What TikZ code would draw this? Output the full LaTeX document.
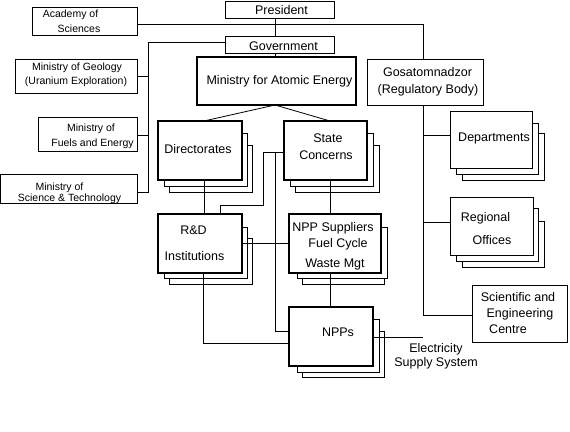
\documentclass[tikz,border=0pt]{standalone}
\usepackage{fontspec}
\setmainfont{Liberation Sans}
\newcommand\mkbox[6]{\node[#1, minimum width={(#5-#3)*1pt}, minimum height={(#6-#4)*1pt}] (#2) at ({(#3+#5)/2},{(#4+#6)/2}) {};}
\tikzset{
  plainbox/.style={draw=black, line width=0.8pt, fill=white, inner sep=0pt, outer sep=0pt},
  boldbox/.style={plainbox, line width=1.8pt},
  conn/.style={draw=black, line width=0.8pt},
  bigtxt/.style={font=\fontsize{12.5}{15}\selectfont, inner sep=0pt, anchor=base},
  smalltxt/.style={font=\fontsize{10.5}{13}\selectfont, inner sep=0pt, anchor=base}
}
\begin{document}
\begin{tikzpicture}[x=1pt,y=-1pt]
\useasboundingbox[fill=white] (0,0) rectangle (570,431);
% simple boxes
\mkbox{plainbox}{aca}{32}{7}{137}{35}
\mkbox{plainbox}{pres}{225}{1}{334}{18}
\mkbox{plainbox}{gov}{225}{36}{334}{53}
\mkbox{boldbox}{mae}{197}{57}{356}{105}
\mkbox{plainbox}{gos}{367}{59}{483}{105}
\mkbox{plainbox}{geo}{15}{59}{137}{93}
\mkbox{plainbox}{fue}{38}{117}{137}{151}
\mkbox{plainbox}{mst}{0.5}{174}{137}{203}
% stacked boxes
\mkbox{plainbox}{dirs3}{169}{145}{252}{192}
\mkbox{plainbox}{dirs2}{164}{133}{247}{186}
\mkbox{boldbox}{dir}{158}{121}{242}{180}
\mkbox{plainbox}{scs3}{295}{145}{379}{192}
\mkbox{plainbox}{scs2}{290}{133}{373}{186}
\mkbox{boldbox}{sc}{284}{121}{367}{180}
\mkbox{plainbox}{deps3}{462}{133}{544}{180}
\mkbox{plainbox}{deps2}{456}{123}{538}{174}
\mkbox{plainbox}{dep}{450}{111}{532}{168}
\mkbox{plainbox}{rds3}{169}{238}{252}{284}
\mkbox{plainbox}{rds2}{164}{227}{247}{278}
\mkbox{boldbox}{rd}{158}{214}{242}{273}
\mkbox{plainbox}{sups3}{302}{238}{384}{284}
\mkbox{plainbox}{sups2}{297}{227}{387}{278}
\mkbox{boldbox}{sup}{289}{214}{381}{273}
\mkbox{plainbox}{npps3}{302}{331}{384}{377}
\mkbox{plainbox}{npps2}{297}{319}{379}{372}
\mkbox{boldbox}{npp}{289}{307}{373}{366}
\mkbox{plainbox}{regs3}{462}{221}{544}{267}
\mkbox{plainbox}{regs2}{456}{208}{538}{261}
\mkbox{plainbox}{reg}{450}{197}{533}{255}
\mkbox{plainbox}{sci}{472}{285}{567}{342}
% connectors
\coordinate (elecend) at (423,337);
\draw[conn] (aca.east |- 0,24) -- (423,24) -- (gos.north -| 423,0);
\draw[conn] (pres.south -| 275,0) -- (gov.north -| 275,0);
\draw[conn] (gov.south -| 275,0) -- (mae.north -| 275,0);
\draw[conn] (gov.west |- 0,42) -- (148,42) -- (148,192) -- (mst.east |- 0,192);
\draw[conn] (148,76) -- (geo.east |- 0,76);
\draw[conn] (148,135) -- (fue.east |- 0,135);
\draw[conn] (mae.south -| 275,0) -- (dir.north -| 204,0);
\draw[conn] (mae.south -| 275,0) -- (sc.north -| 330,0);
\draw[conn] (dir.south -| 204,0) -- (rd.north -| 204,0);
\draw[conn] (sc.south -| 330,0) -- (sup.north -| 330,0);
\draw[conn] (sup.south -| 330,0) -- (npp.north -| 330,0);
\draw[conn] (sc.west |- 0,152) -- (263,152) -- (263,205) -- (220,205) -- (rd.north -| 220,0);
\draw[conn] (275,152) -- (275,331) -- (npp.west |- 0,331);
\draw[conn] (rd.east |- 0,243) -- (sup.west |- 0,243);
\draw[conn] (rd.south -| 203,0) -- (203,343) -- (npp.west |- 0,343);
\draw[conn] (npp.east |- 0,337) -- (elecend);
\draw[conn] (gos.south -| 423,0) -- (423,315) -- (sci.west |- 0,315);
\draw[conn] (423,135) -- (dep.west |- 0,135);
\draw[conn] (423,222) -- (reg.west |- 0,222);
% texts
\node[smalltxt] (ta1) at (70.5,17) {Academy of};
\node[smalltxt] (ta2) at (79,32) {Sciences};
\node[smalltxt] (tg1) at (77,70.5) {Ministry of Geology};
\node[smalltxt] (tg2) at (76,84) {(Uranium Exploration)};
\node[smalltxt] (tf1) at (91,131.7) {Ministry of};
\node[smalltxt] (tf2) at (92.5,146.7) {Fuels and Energy};
\node[smalltxt] (ts1) at (59.5,190) {Ministry of};
\node[smalltxt] (ts2) at (69.5,201.5) {Science \& Technology};
\node[bigtxt] (tp) at (281.5,14) {President};
\node[bigtxt] (tgv) at (283.5,50) {Government};
\node[bigtxt] (tm) at (279.5,84) {Ministry for Atomic Energy};
\node[bigtxt] (to1) at (427.5,76) {Gosatomnadzor};
\node[bigtxt] (to2) at (428,93) {(Regulatory Body)};
\node[bigtxt] (td) at (198,153) {Directorates};
\node[bigtxt] (tc1) at (328,142.7) {State};
\node[bigtxt] (tc2) at (326,159) {Concerns};
\node[bigtxt] (tdp) at (494,141.7) {Departments};
\node[bigtxt] (tr1) at (193.5,234) {R\&D};
\node[bigtxt] (tr2) at (194.5,260) {Institutions};
\node[bigtxt] (tu1) at (333,231.7) {NPP Suppliers};
\node[bigtxt] (tu2) at (338,247.7) {Fuel Cycle};
\node[bigtxt] (tu3) at (335,267.7) {Waste Mgt};
\node[bigtxt] (tn) at (338,336) {NPPs};
\node[bigtxt] (te1) at (485.5,221.7) {Regional};
\node[bigtxt] (te2) at (492,244) {Offices};
\node[bigtxt] (ti1) at (518,301) {Scientific and};
\node[bigtxt] (ti2) at (520,317.7) {Engineering};
\node[bigtxt] (ti3) at (508,333.3) {Centre};
\node[bigtxt] (tl1) at (436,352) {Electricity};
\node[bigtxt] (tl2) at (436,366.7) {Supply System};
\end{tikzpicture}
\end{document}
